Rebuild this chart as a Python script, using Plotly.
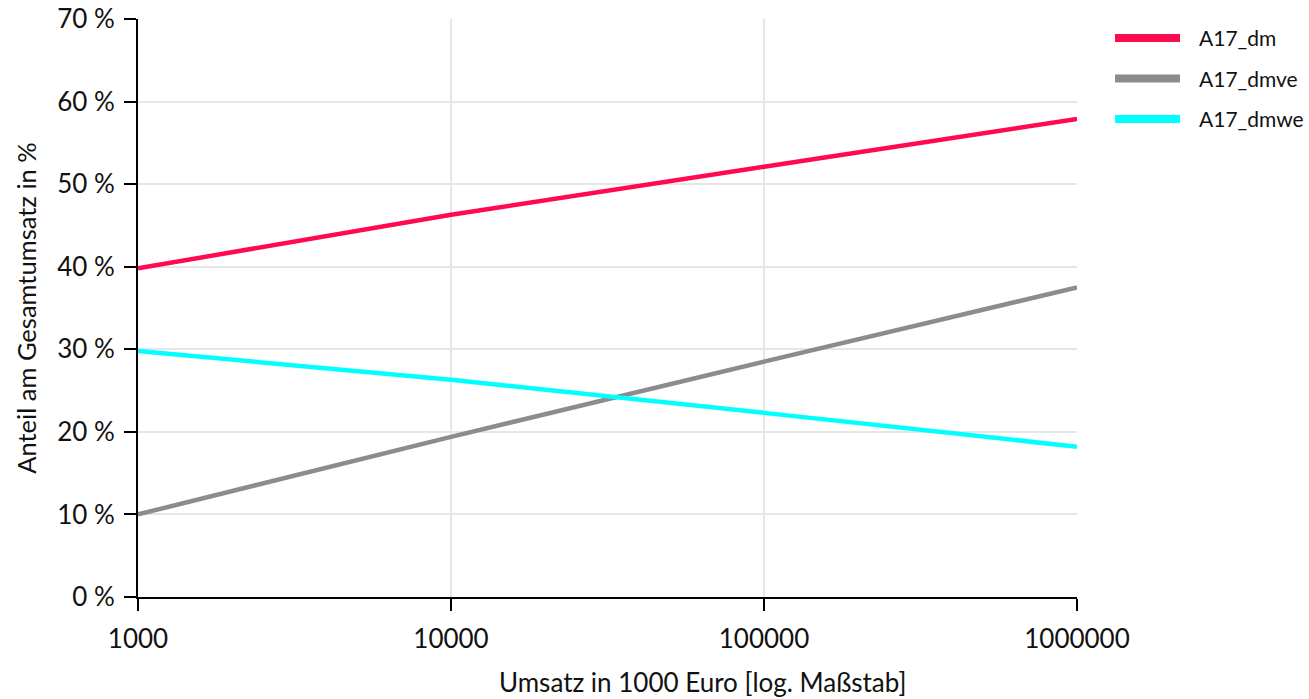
import plotly.graph_objects as go

umsatz = [1000, 10000, 100000, 1000000]
a17_dm = [39.8, 46.3, 52.1, 57.9]
a17_dmve = [10.0, 19.4, 28.5, 37.5]
a17_dmwe = [29.8, 26.3, 22.3, 18.2]

names = ["A17_dm", "A17_dmve", "A17_dmwe"]
values = [a17_dm, a17_dmve, a17_dmwe]
colors = ["#ff0a50", "#8c8c8c", "#00ffff"]

y_ticks = [0, 10, 20, 30, 40, 50, 60, 70]
y_ticktext = ["0 %", "10 %", "20 %", "30 %", "40 %", "50 %", "60 %", "70 %"]
x_ticks = [1000, 10000, 100000, 1000000]
x_ticktext = ["1000", "10000", "100000", "1000000"]
x_title = "Umsatz in 1000 Euro [log. Maßstab]"
y_title = "Anteil am Gesamtumsatz in %"

FONT = "Lato"
W, H = 1309, 699
L, R, T, B = 138, 232, 19, 102
PW, PH = W - L - R, H - T - B

fig = go.Figure()
for name, vals, col in zip(names, values, colors):
    fig.add_trace(go.Scatter(x=umsatz, y=vals, name=name, mode="lines",
                             line=dict(color=col, width=4.5), showlegend=False))

# manual legend (positions in pixels converted to paper coordinates)
shapes, annots = [], []
for i, (name, col) in enumerate(zip(names, colors)):
    py = 38 + i * 40.5
    yp = (H - B - py) / PH
    shapes.append(dict(type="line", xref="paper", yref="paper",
                       x0=(1115 - L) / PW, x1=(1180 - L) / PW, y0=yp, y1=yp,
                       line=dict(color=col, width=8)))
    annots.append(dict(xref="paper", yref="paper", x=(1197 - L) / PW, y=yp,
                       text=name, showarrow=False, xanchor="left", yanchor="middle",
                       font=dict(size=21, family=FONT, color="#111")))

# x-axis title, offset to the right as in the reference
annots.append(dict(xref="paper", yref="paper", x=(702 - L) / PW, y=(H - B - 682) / PH,
                   text=x_title, showarrow=False, xanchor="center", yanchor="middle",
                   font=dict(size=26, family=FONT, color="#111")))

fig.update_layout(
    width=W, height=H,
    margin=dict(l=L, r=R, t=T, b=B),
    paper_bgcolor="white", plot_bgcolor="white",
    font=dict(family=FONT, size=22, color="#111"),
    showlegend=False,
    shapes=shapes, annotations=annots,
    xaxis=dict(type="log", range=[3, 6], tickvals=x_ticks, ticktext=x_ticktext,
               showgrid=True, gridcolor="#e6e6e6", gridwidth=2,
               showline=True, linecolor="black", linewidth=2,
               ticks="outside", ticklen=12, tickwidth=2, tickcolor="black",
               ticklabelstandoff=6, tickfont=dict(size=26),
               automargin=False, zeroline=False),
    yaxis=dict(range=[0, 70], tickvals=y_ticks, ticktext=y_ticktext,
               showgrid=True, gridcolor="#e6e6e6", gridwidth=2,
               showline=True, linecolor="black", linewidth=2,
               ticks="outside", ticklen=12, tickwidth=2, tickcolor="black",
               ticklabelstandoff=4, tickfont=dict(size=26), automargin=False,
               title=dict(text=y_title, standoff=13, font=dict(size=25.5)),
               zeroline=False),
)

fig.write_html("out.html")
